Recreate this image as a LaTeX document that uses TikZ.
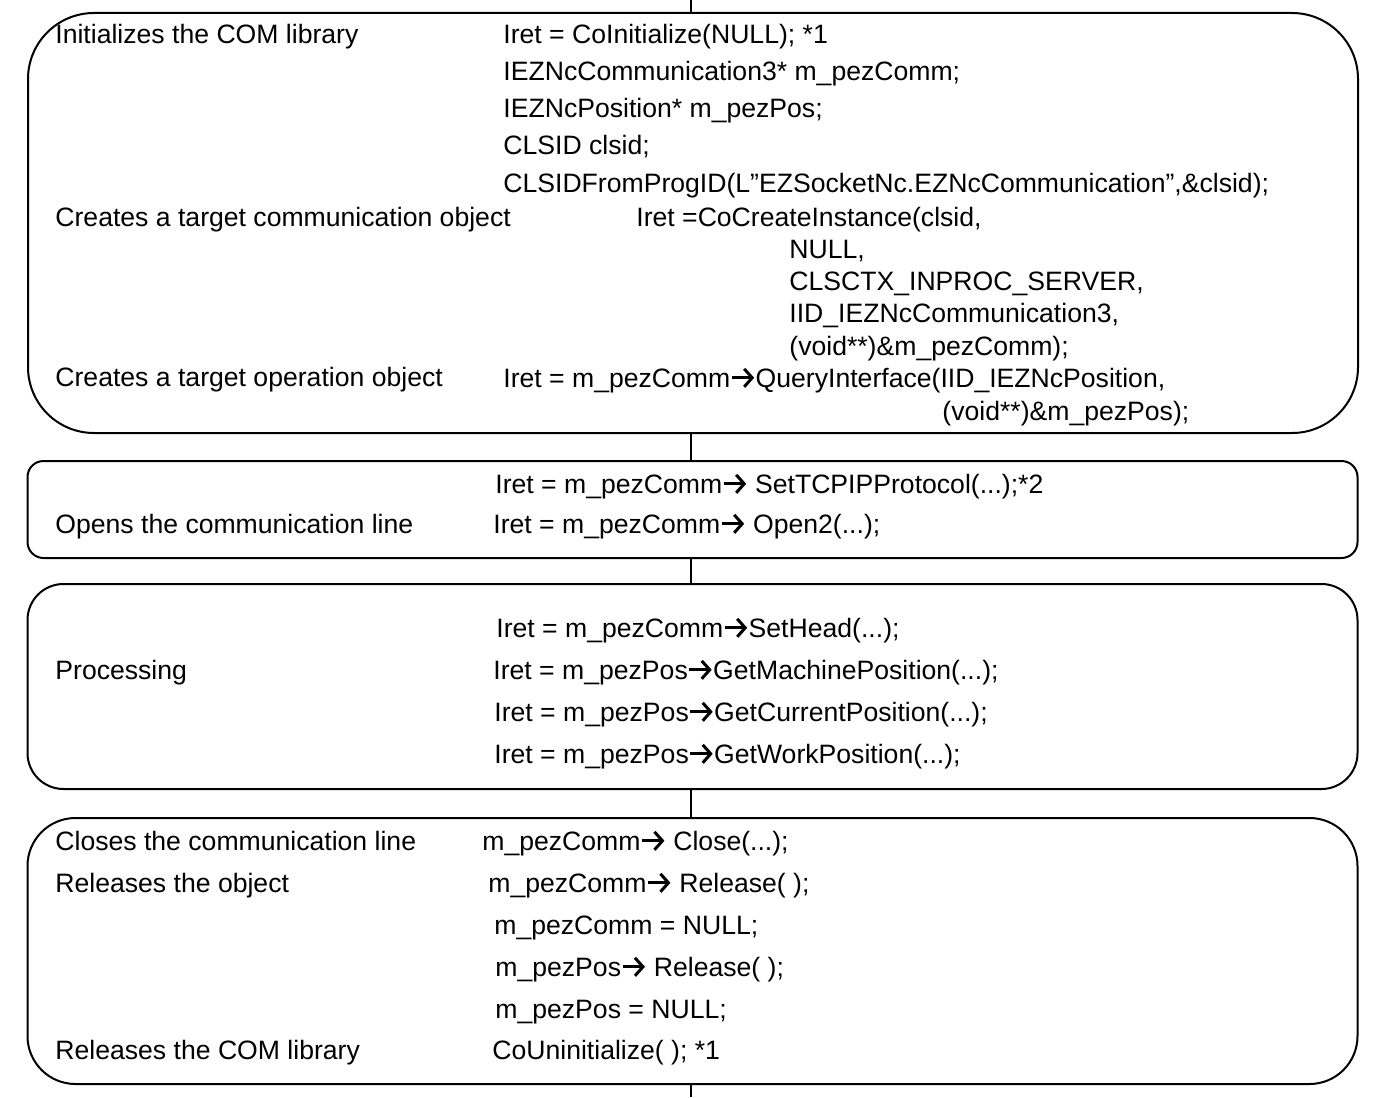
\documentclass[tikz,border=0pt]{standalone}
\usepackage{fontspec}
\setmainfont{Liberation Sans}
\usepackage{tikz}
\usetikzlibrary{positioning, calc, arrows.meta}

% bold call arrow used inside the code lines
\newcommand{\arr}{\tikz[baseline=0pt]\draw[line width=1.5pt, -{Straight Barb[length=4pt, width=9pt]}] (0pt,4.6pt) -- (11.2pt,4.6pt);}

\tikzset{
    stage/.style={draw, line width=1pt, minimum width=665pt, inner sep=0pt},
    txt/.style={anchor=base west, inner sep=0pt, font=\fontsize{13.3}{16}\selectfont},
    link/.style={line width=1pt}
}

\begin{document}
\begin{tikzpicture}[x=0.5pt, y=-0.5pt]
    \useasboundingbox (0,0) rectangle (1385,1097);

    % Stages
    \node[stage, rounded corners=33pt, minimum height=210pt] (init) at (693,223) {};
    \node[stage, rounded corners=8pt, minimum height=48.5pt] (open) at (692.5,509.5) {};
    \node[stage, rounded corners=18pt, minimum height=102.5pt] (proc) at (692.5,686.5) {};
    \node[stage, rounded corners=24pt, minimum height=133pt] (close) at (692.5,951) {};

    % Flow line
    \coordinate (top) at (691,0);
    \coordinate (bottom) at (691,1097);
    \draw[link] (top) -- (top |- init.north);
    \draw[link] (init.south -| top) -- (top |- open.north);
    \draw[link] (open.south -| top) -- (top |- proc.north);
    \draw[link] (proc.south -| top) -- (top |- close.north);
    \draw[link] (close.south -| top) -- (bottom);

    % Initialization
    \node[txt] (initA) at (55,44) {Initializes the COM library};
    \node[txt] (initB) at (55,226) {Creates a target communication object};
    \node[txt] (initC) at (55,386) {Creates a target operation object};
    \node[txt] (code1) at (503,44) {Iret = CoInitialize(NULL); *1};
    \node[txt] (code2) at (503,81) {IEZNcCommunication3* m\_pezComm;};
    \node[txt] (code3) at (503,118) {IEZNcPosition* m\_pezPos;};
    \node[txt] (code4) at (503,155) {CLSID clsid;};
    \node[txt] (code5) at (503,192) {CLSIDFromProgID(L”EZSocketNc.EZNcCommunication”,\&clsid);};
    \node[txt] (code6) at (636,226) {Iret =CoCreateInstance(clsid,};
    \node[txt] (code7) at (789,258) {NULL,};
    \node[txt] (code8) at (789,290) {CLSCTX\_INPROC\_SERVER,};
    \node[txt] (code9) at (789,322) {IID\_IEZNcCommunication3,};
    \node[txt] (code10) at (789,355) {(void**)\&m\_pezComm);};
    \node[txt] (code11) at (503,387) {Iret = m\_pezComm\arr QueryInterface(IID\_IEZNcPosition,};
    \node[txt] (code12) at (942,420) {(void**)\&m\_pezPos);};

    % Open
    \node[txt] (openA) at (55,533) {Opens the communication line};
    \node[txt] (code13) at (495,493) {Iret = m\_pezComm\arr{} SetTCPIPProtocol(...);*2};
    \node[txt] (code14) at (493,533) {Iret = m\_pezComm\arr{} Open2(...);};

    % Processing
    \node[txt] (procA) at (55,679) {Processing};
    \node[txt] (code15) at (496,637) {Iret = m\_pezComm\arr SetHead(...);};
    \node[txt] (code16) at (493,679) {Iret = m\_pezPos\arr GetMachinePosition(...);};
    \node[txt] (code17) at (494,721) {Iret = m\_pezPos\arr GetCurrentPosition(...);};
    \node[txt] (code18) at (494,763) {Iret = m\_pezPos\arr GetWorkPosition(...);};

    % Close
    \node[txt] (closeA) at (55,850) {Closes the communication line};
    \node[txt] (closeB) at (55,892) {Releases the object};
    \node[txt] (closeC) at (55,1059) {Releases the COM library};
    \node[txt] (code19) at (482,850) {m\_pezComm\arr{} Close(...);};
    \node[txt] (code20) at (488,892) {m\_pezComm\arr{} Release( );};
    \node[txt] (code21) at (494,934) {m\_pezComm = NULL;};
    \node[txt] (code22) at (495,976) {m\_pezPos\arr{} Release( );};
    \node[txt] (code23) at (495,1018) {m\_pezPos = NULL;};
    \node[txt] (code24) at (492,1059) {CoUninitialize( ); *1};
\end{tikzpicture}
\end{document}
